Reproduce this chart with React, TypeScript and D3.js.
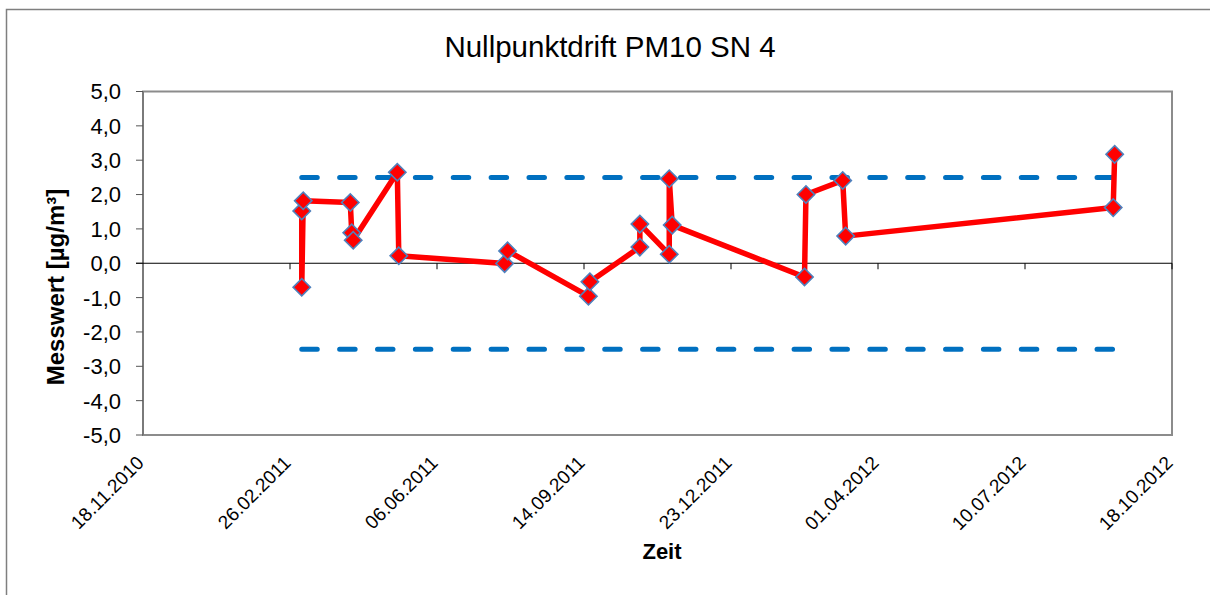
import React, { useEffect, useRef } from 'react';
import * as d3 from 'd3';

// measurement dates and zero point drift values
const dates = [
  '06.03.2011', '06.03.2011', '07.03.2011', '08.04.2011', '09.04.2011', '10.04.2011',
  '10.05.2011', '11.05.2011', '22.07.2011', '24.07.2011', '17.09.2011', '18.09.2011',
  '22.10.2011', '22.10.2011', '11.11.2011', '11.11.2011', '13.11.2011', '11.02.2012',
  '12.02.2012', '08.03.2012', '10.03.2012', '08.09.2012', '09.09.2012',
];
const values = [
  1.52, -0.7, 1.82, 1.77, 0.89, 0.67,
  2.65, 0.22, -0.01, 0.36, -0.96, -0.54,
  0.47, 1.14, 0.26, 2.46, 1.11, -0.4,
  2.0, 2.41, 0.79, 1.62, 3.17,
];
const limits = [2.5, -2.5];

const xTickLabels = [
  '18.11.2010', '26.02.2011', '06.06.2011', '14.09.2011',
  '23.12.2011', '01.04.2012', '10.07.2012', '18.10.2012',
];
const yTickValues = [5, 4, 3, 2, 1, 0, -1, -2, -3, -4, -5];

const title = 'Nullpunktdrift PM10 SN 4';
const xTitle = 'Zeit';
const yTitle = 'Messwert [µg/m³]';

const W = 1210;
const H = 595;

const App = () => {
  const ref = useRef<SVGSVGElement>(null);

  useEffect(() => {
    const parse = d3.utcParse('%d.%m.%Y');
    const fmt = (v: number) => v.toFixed(1).replace('.', ',');
    const data = dates.map((d, i) => ({ date: parse(d) as Date, value: values[i] }));
    const ticks = xTickLabels.map((t) => parse(t) as Date);

    const plot = { left: 143, right: 1172, top: 91.5, bottom: 435 };

    const svg = d3.select(ref.current);
    svg.selectAll('*').remove();

    const x = d3
      .scaleUtc()
      .domain([ticks[0], ticks[ticks.length - 1]])
      .range([plot.left, plot.right]);
    const y = d3.scaleLinear().domain([-5, 5]).range([plot.bottom, plot.top]);

    svg.append('rect').attr('width', W).attr('height', H).attr('fill', '#fff');

    // outer chart frame
    svg
      .append('rect')
      .attr('x', 6.5)
      .attr('y', 9.5)
      .attr('width', W + 10)
      .attr('height', H + 10)
      .attr('fill', 'none')
      .attr('stroke', '#7f7f7f')
      .attr('stroke-width', 1.5);

    // plot area frame
    svg
      .append('rect')
      .attr('x', plot.left)
      .attr('y', plot.top)
      .attr('width', plot.right - plot.left)
      .attr('height', plot.bottom - plot.top)
      .attr('fill', 'none')
      .attr('stroke', '#8c8c8c')
      .attr('stroke-width', 2);

    svg
      .append('text')
      .attr('x', 610)
      .attr('y', 56.5)
      .attr('text-anchor', 'middle')
      .attr('font-family', 'Liberation Sans, Arial, sans-serif')
      .attr('font-size', 29.5)
      .text(title);

    // y axis
    const yAxis = svg.append('g');
    yAxis
      .append('line')
      .attr('x1', plot.left)
      .attr('x2', plot.left)
      .attr('y1', plot.top)
      .attr('y2', plot.bottom)
      .attr('stroke', '#7a7a7a')
      .attr('stroke-width', 2);
    yAxis
      .selectAll('line.tick')
      .data(yTickValues)
      .enter()
      .append('line')
      .attr('class', 'tick')
      .attr('x1', plot.left - 7)
      .attr('x2', plot.left)
      .attr('y1', (d) => y(d))
      .attr('y2', (d) => y(d))
      .attr('stroke', '#555')
      .attr('stroke-width', 1);
    yAxis
      .selectAll('text')
      .data(yTickValues)
      .enter()
      .append('text')
      .attr('x', 121)
      .attr('y', (d) => y(d))
      .attr('dy', '0.36em')
      .attr('text-anchor', 'end')
      .attr('font-family', 'Liberation Sans, Arial, sans-serif')
      .attr('font-size', 22)
      .text((d) => fmt(d));

    svg
      .append('text')
      .attr('transform', 'translate(64,287) rotate(-90)')
      .attr('text-anchor', 'middle')
      .attr('font-family', 'Liberation Sans, Arial, sans-serif')
      .attr('font-weight', 'bold')
      .attr('font-size', 24)
      .text(yTitle);

    // date axis crossing at zero
    const y0 = y(0);
    svg
      .append('line')
      .attr('x1', plot.left - 7)
      .attr('x2', plot.right)
      .attr('y1', y0)
      .attr('y2', y0)
      .attr('stroke', '#000')
      .attr('stroke-width', 1.2);
    svg
      .selectAll('line.xtick')
      .data(ticks.slice(1))
      .enter()
      .append('line')
      .attr('class', 'xtick')
      .attr('x1', (d) => x(d))
      .attr('x2', (d) => x(d))
      .attr('y1', y0)
      .attr('y2', y0 + 6)
      .attr('stroke', '#000')
      .attr('stroke-width', 1);

    svg
      .selectAll('text.xlabel')
      .data(ticks)
      .enter()
      .append('text')
      .attr('class', 'xlabel')
      .attr('transform', (d) => `translate(${x(d) + 2},${plot.bottom + 29}) rotate(-45)`)
      .attr('text-anchor', 'end')
      .attr('font-family', 'Liberation Sans, Arial, sans-serif')
      .attr('font-size', 19)
      .text((d, i) => xTickLabels[i]);

    svg
      .append('text')
      .attr('x', 662)
      .attr('y', 559)
      .attr('text-anchor', 'middle')
      .attr('font-family', 'Liberation Sans, Arial, sans-serif')
      .attr('font-weight', 'bold')
      .attr('font-size', 22)
      .text(xTitle);

    // tolerance limits
    const first = data[0].date;
    const last = data[data.length - 1].date;
    svg
      .selectAll('line.limit')
      .data(limits)
      .enter()
      .append('line')
      .attr('class', 'limit')
      .attr('x1', x(first))
      .attr('x2', x(last))
      .attr('y1', (d) => y(d))
      .attr('y2', (d) => y(d))
      .attr('stroke', '#0070c0')
      .attr('stroke-width', 5)
      .attr('stroke-linecap', 'round')
      .attr('stroke-dasharray', '15.5 22.37');

    // drift series
    const line = d3
      .line<{ date: Date; value: number }>()
      .x((d) => x(d.date))
      .y((d) => y(d.value));
    svg
      .append('path')
      .datum(data)
      .attr('d', line)
      .attr('fill', 'none')
      .attr('stroke', '#ff0000')
      .attr('stroke-width', 5.5)
      .attr('stroke-linejoin', 'round');

    const diamond = d3.symbol().type(d3.symbolSquare).size(150);
    svg
      .selectAll('path.marker')
      .data(data)
      .enter()
      .append('path')
      .attr('class', 'marker')
      .attr('d', diamond)
      .attr('transform', (d) => `translate(${x(d.date)},${y(d.value)}) rotate(45)`)
      .attr('fill', '#ff0000')
      .attr('stroke', '#4f81bd')
      .attr('stroke-width', 1.6);
  }, []);

  return (
    <svg
      ref={ref}
      width={W}
      height={H}
      style={{ position: 'absolute', left: 0, top: 0, display: 'block' }}
    />
  );
};

export default App;
